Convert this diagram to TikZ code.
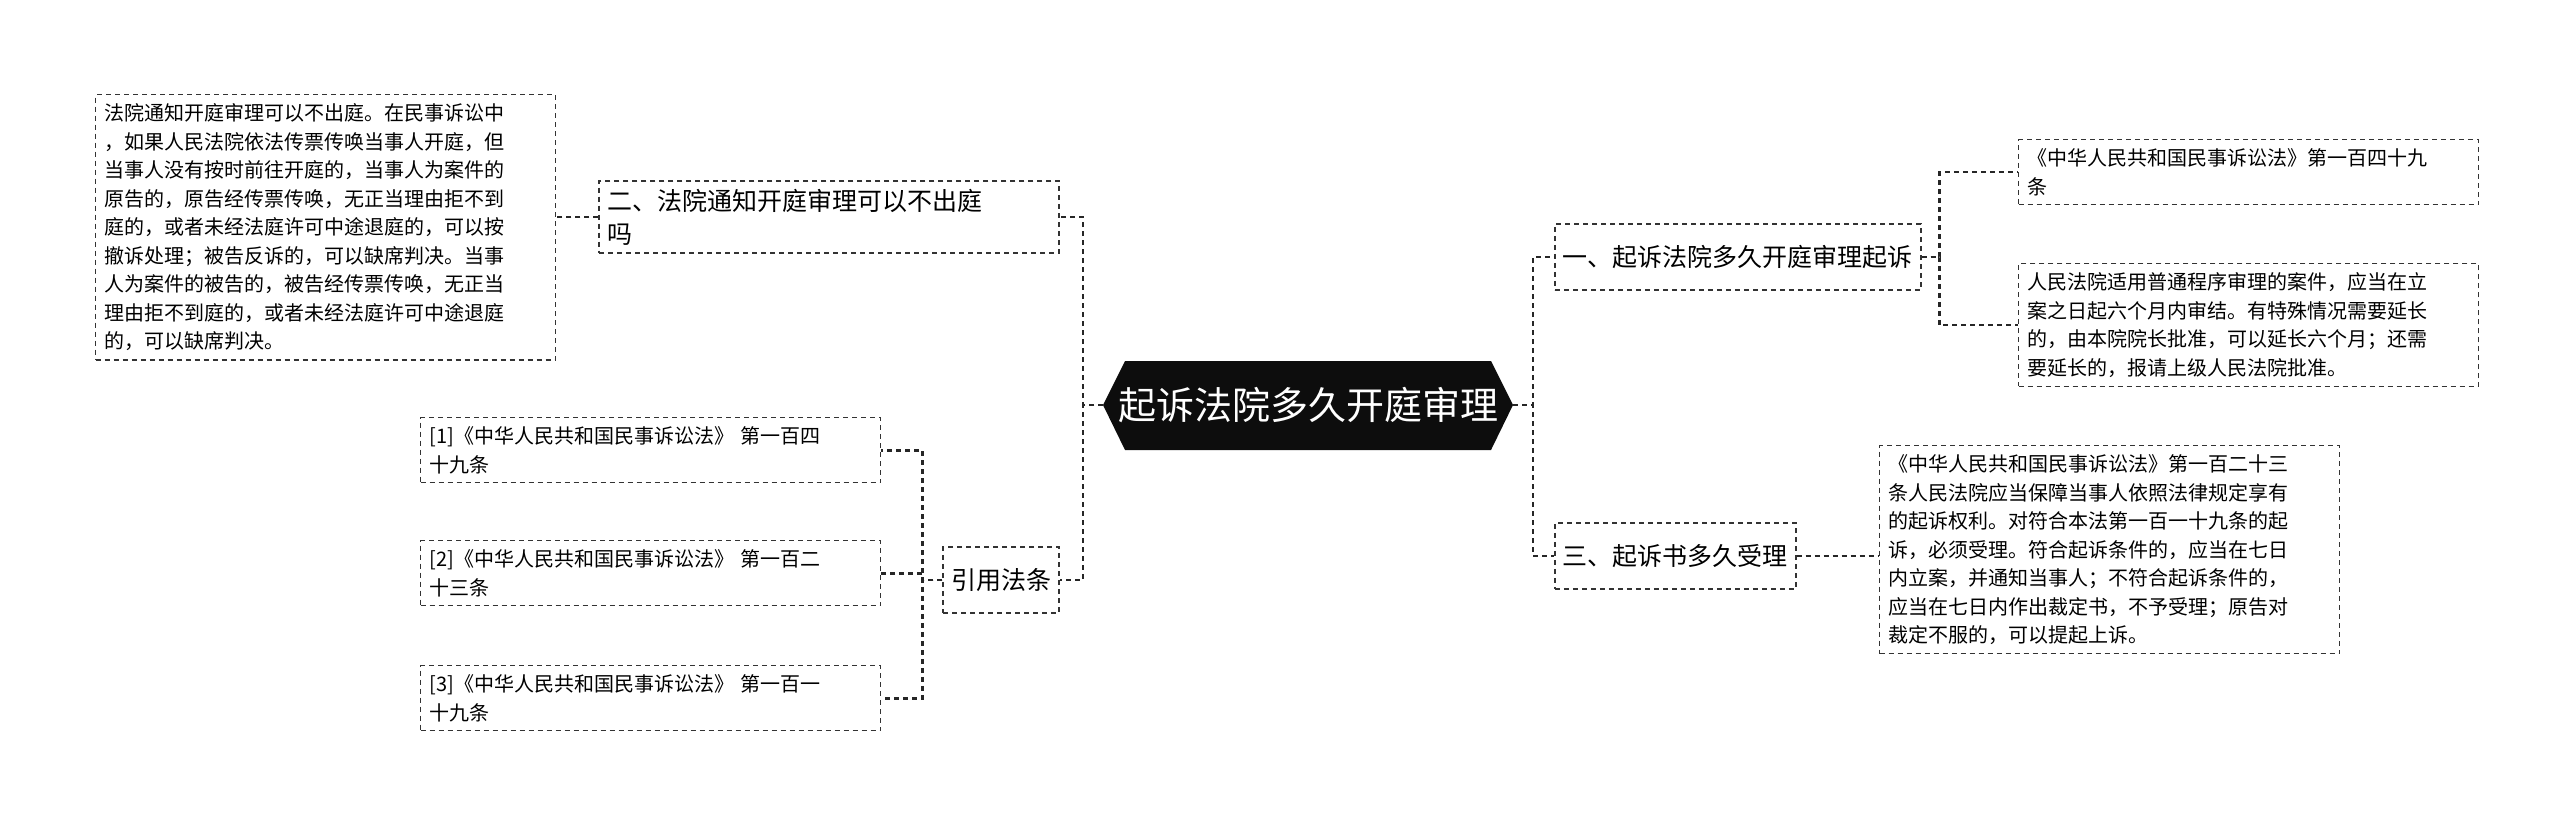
\documentclass[tikz,border=0pt]{standalone}
\usepackage{fontspec}
\setmainfont{Noto Sans CJK SC}
\usetikzlibrary{positioning}
\tikzset{
  topic/.style={draw=black!80,dashed,line width=1.6pt,dash pattern=on 5pt off 4pt,inner sep=8pt,align=left,font=\fontsize{25}{33}\selectfont,anchor=north west,minimum height=66pt},
  leaf/.style={draw=black!80,dashed,line width=1.4pt,dash pattern=on 5pt off 4pt,inner sep=9pt,align=left,font=\fontsize{20}{28.5}\selectfont,anchor=north west,text width=442pt},
  link/.style={draw=black!85,line width=2.6pt,dash pattern=on 5pt off 4pt},
}
\begin{document}
\begin{tikzpicture}[x=1pt,y=-1pt]
\useasboundingbox (0,0) rectangle (2560,835);
% central topic
\fill[black!95] (1103,405) -- (1125,361) -- (1491,361) -- (1513,405) -- (1491,450) -- (1125,450) -- cycle;
\node[text=white,font=\fontsize{38}{40}\selectfont] (root) at (1308,405) {起诉法院多久开庭审理};
\coordinate (rootL) at (1103,405);
\coordinate (rootR) at (1513,405);
% right side
\node[topic] (one) at (1554,223) {一、起诉法院多久开庭审理起诉};
\node[leaf] (onea) at (2018,139) {《中华人民共和国民事诉讼法》第一百四十九\\条};
\node[leaf] (oneb) at (2018,263) {人民法院适用普通程序审理的案件，应当在立\\案之日起六个月内审结。有特殊情况需要延长\\的，由本院院长批准，可以延长六个月；还需\\要延长的，报请上级人民法院批准。};
\node[topic] (three) at (1554,522) {三、起诉书多久受理};
\node[leaf] (threea) at (1879,445) {《中华人民共和国民事诉讼法》第一百二十三\\条人民法院应当保障当事人依照法律规定享有\\的起诉权利。对符合本法第一百一十九条的起\\诉，必须受理。符合起诉条件的，应当在七日\\内立案，并通知当事人；不符合起诉条件的，\\应当在七日内作出裁定书，不予受理；原告对\\裁定不服的，可以提起上诉。};
% left side
\node[topic,anchor=north east,text width=444pt] (two) at (1060,180) {二、法院通知开庭审理可以不出庭\\吗};
\node[leaf] (twoa) at (95,94) {法院通知开庭审理可以不出庭。在民事诉讼中\\，如果人民法院依法传票传唤当事人开庭，但\\当事人没有按时前往开庭的，当事人为案件的\\原告的，原告经传票传唤，无正当理由拒不到\\庭的，或者未经法庭许可中途退庭的，可以按\\撤诉处理；被告反诉的，可以缺席判决。当事\\人为案件的被告的，被告经传票传唤，无正当\\理由拒不到庭的，或者未经法庭许可中途退庭\\的，可以缺席判决。};
\node[topic,anchor=north east] (law) at (1060,546) {引用法条};
\node[leaf] (lawa) at (420,417) {[1]《中华人民共和国民事诉讼法》 第一百四\\十九条};
\node[leaf] (lawb) at (420,540) {[2]《中华人民共和国民事诉讼法》 第一百二\\十三条};
\node[leaf] (lawc) at (420,665) {[3]《中华人民共和国民事诉讼法》 第一百一\\十九条};
% connectors
\draw[link] (rootR) -- ++(20,0) |- (one.west);
\draw[link] (rootR) -- ++(20,0) |- (three.west);
\draw[link] (rootL) -- ++(-20,0) |- (two.east);
\draw[link] (rootL) -- ++(-20,0) |- (law.east);
\draw[link] (one.east) -- ++(18,0) |- (onea.west);
\draw[link] (one.east) -- ++(18,0) |- (oneb.west);
\draw[link] (three.east) -- (threea.west |- three.east);
\draw[link] (two.west) -- (twoa.east |- two.west);
\foreach \n in {lawa,lawb,lawc}
  \draw[link] (law.west) -- ++(-20,0) |- (\n.east);
\end{tikzpicture}
\end{document}
